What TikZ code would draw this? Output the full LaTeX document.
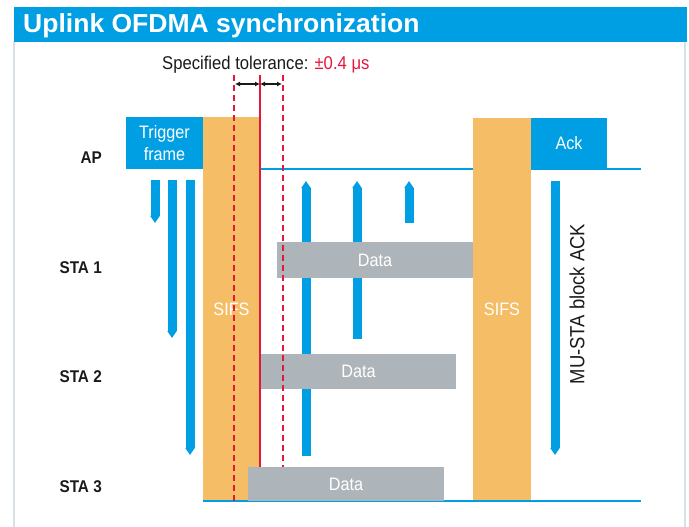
\documentclass[tikz,border=0pt]{standalone}
\usepackage{fontspec}
\setmainfont[FakeStretch=0.9]{Liberation Sans}
\newfontfamily\headfont[FakeStretch=1.02]{Liberation Sans}
\usetikzlibrary{arrows.meta,positioning}
\definecolor{wlanblue}{HTML}{009FE3}
\definecolor{sifsorange}{HTML}{F5BD66}
\definecolor{datagray}{HTML}{AEB5BA}
\definecolor{tolred}{HTML}{E4173E}
\definecolor{framegray}{HTML}{D8E0E5}
\definecolor{ink}{HTML}{1A1A1A}
\tikzset{
  slot/.style={anchor=north west, inner sep=0pt, outer sep=0pt, text=white, align=center, font=\fontsize{18}{22}\selectfont},
  sifsbox/.style={slot, fill=sifsorange},
  framebox/.style={slot, fill=wlanblue},
  databox/.style={slot, fill=datagray},
  stalabel/.style={anchor=east, inner sep=0pt, text=ink, font=\fontsize{17}{20}\selectfont\bfseries},
  sig/.style={line width=9pt, draw=wlanblue, -{Triangle[length=7pt,width=9pt]}},
  medium/.style={line width=2.6pt, draw=wlanblue},
  redline/.style={line width=1.8pt, draw=tolred},
  reddash/.style={line width=1.5pt, draw=tolred, dash pattern=on 6pt off 4pt},
  tolarrow/.style={{Latex[length=5pt,width=5pt]}-{Latex[length=5pt,width=5pt]}, line width=1.2pt, draw=ink}
}

\begin{document}
\begin{tikzpicture}[x=1pt, y=-1pt]
  \useasboundingbox (0,0) rectangle (689,527);
  % panel
  \draw[framegray, line width=1.2pt] (14,41) -- (14,527);
  \draw[framegray, line width=1.2pt] (685,41) -- (685,527);
  \fill[wlanblue] (14,7) rectangle (687,42);
  \node[anchor=base west, inner sep=0pt, text=white, font=\fontsize{26}{30}\headfont\bfseries] (title) at (23,33) {Uplink OFDMA synchronization};

  % medium lines
  \coordinate (apL) at (260,169);
  \coordinate (apR) at (641,169);
  \coordinate (botL) at (203,501);
  \coordinate (botR) at (641,501);
  \draw[medium] (apL) -- (apR);

  % SIFS and frames
  \node[sifsbox, minimum width=57, minimum height=384] (sifsA) at (203,117) {SIFS};
  \node[sifsbox, minimum width=58, minimum height=383] (sifsB) at (473,118) {SIFS};
  \node[framebox, minimum width=77, minimum height=52] (trig) at (126,117) {Trigger\\frame};
  \node[framebox, minimum width=76, minimum height=51] (ack) at (531,118) {Ack};
  \draw[medium] (botL) -- (botR);

  % stations
  \node[stalabel] (ap) at (102,158) {AP};
  \node[stalabel] (sta1) at (102,268) {STA 1};
  \node[stalabel] (sta2) at (102,377) {STA 2};
  \node[stalabel] (sta3) at (102,487) {STA 3};

  % trigger to stations
  \coordinate (d1s) at (155,180); \coordinate (d1e) at (155,223);
  \coordinate (d2s) at (172,180); \coordinate (d2e) at (172,338);
  \coordinate (d3s) at (190,180); \coordinate (d3e) at (190,455);
  \draw[sig] (d1s) -- (d1e);
  \draw[sig] (d2s) -- (d2e);
  \draw[sig] (d3s) -- (d3e);

  % stations to AP
  \coordinate (u3s) at (306,456); \coordinate (u3e) at (306,181);
  \coordinate (u2s) at (357,339); \coordinate (u2e) at (357,181);
  \coordinate (u1s) at (409,223); \coordinate (u1e) at (409,181);
  \draw[sig] (u3s) -- (u3e);
  \draw[sig] (u2s) -- (u2e);
  \draw[sig] (u1s) -- (u1e);

  % block ack
  \coordinate (bas) at (555,181); \coordinate (bae) at (555,455);
  \draw[sig] (bas) -- (bae);
  \node[rotate=90, inner sep=0pt, text=ink, font=\fontsize{20.5}{24}\selectfont] (balabel) at (577,304) {MU-STA block ACK};

  % uplink data
  \node[databox, minimum width=196, minimum height=36] (data1) at (277,242) {Data};
  \node[databox, minimum width=195, minimum height=35] (data2) at (261,354) {Data};

  % tolerance
  \coordinate (redtop) at (260,75);
  \coordinate (redbot) at (260,467);
  \coordinate (lowtop) at (234,75);
  \coordinate (lowbot) at (234,501);
  \coordinate (hightop) at (283,75);
  \coordinate (highbot) at (283,467);
  \draw[redline] (redtop) -- (redbot);
  \draw[reddash] (lowtop) -- (lowbot);
  \draw[reddash] (hightop) -- (highbot);
  \node[databox, minimum width=196, minimum height=34] (data3) at (248,467) {Data};
  \coordinate (tolL) at (235,84);
  \coordinate (tolM) at (260,84);
  \coordinate (tolR) at (282,84);
  \draw[tolarrow] (tolL) -- (tolM);
  \draw[tolarrow] (tolM) -- (tolR);
  \node[anchor=base west, inner sep=0pt, text=ink, font=\fontsize{18.5}{22}\selectfont] (tol) at (162,70) {Specified tolerance: \textcolor{tolred}{±0.4 μs}};
\end{tikzpicture}
\end{document}
